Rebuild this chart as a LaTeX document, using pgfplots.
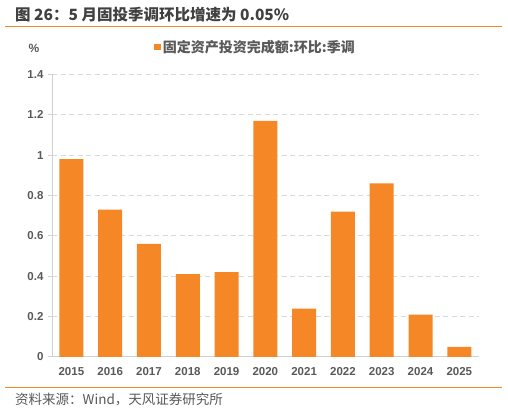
\documentclass[border=0pt]{standalone}
\usepackage{pgfplots}
\pgfplotsset{compat=1.18}
\usepackage{fontspec}
\setmainfont{Liberation Sans}
\newfontfamily\cjk{Noto Sans CJK SC}
\definecolor{barorange}{HTML}{F58726}
\definecolor{txtgrey}{HTML}{595959}
\definecolor{titlegrey}{HTML}{404040}
\definecolor{gridgrey}{HTML}{D9D9D9}
\definecolor{axisgrey}{HTML}{D0D0D0}
\begin{document}
\begin{tikzpicture}
\path[use as bounding box] (0pt,0pt) rectangle (508pt,411pt);
% title
\node[anchor=west,inner sep=0,text=titlegrey,font={\cjk\bfseries\fontsize{15.5}{17}\selectfont}] at (15pt,396pt) {图 26：5 月固投季调环比增速为 0.05\%};
\draw[barorange,line width=1.5pt] (5pt,384.3pt) -- (502pt,384.3pt);
% y unit
\node[text=txtgrey,font={\bfseries\fontsize{12}{14}\selectfont},inner sep=0] at (34pt,363pt) {\%};
% source
\draw[barorange,line width=1.5pt] (5pt,23.5pt) -- (502pt,23.5pt);
\node[anchor=west,inner sep=0,text=txtgrey,font={\cjk\fontsize{13.5}{15}\selectfont}] at (15pt,11pt) {资料来源：Wind，天风证券研究所};
\begin{axis}[
  at={(52pt,54pt)}, anchor=south west,
  scale only axis, width=426.7pt, height=282.6pt,
  xmin=-0.5, xmax=10.5, ymin=0, ymax=1.4,
  ytick={0,0.2,...,1.4},
  xtick={0,...,10},
  xticklabels={2015,2016,2017,2018,2019,2020,2021,2022,2023,2024,2025},
  axis x line=bottom, axis y line=left,
  axis line style={-, axisgrey, line width=1pt},
  x axis line style={-},
  y axis line style={-},
  tick style={axisgrey, line width=1pt},
  xtick style={draw=none},
  tick align=outside,
  major tick length=4pt,
  ymajorgrids,
  major grid style={gridgrey, line width=1pt, dash pattern=on 5pt off 3.5pt},
  extra x ticks={-0.5,0.5,...,10.5},
  extra x tick labels={},
  extra x tick style={grid=none, tick style={draw=axisgrey, line width=1pt}, major tick length=4pt},
  /pgf/number format/assume math mode=true,
  ticklabel style={text=txtgrey, font={\bfseries\fontsize{11.5}{13}\selectfont}},
  xticklabel style={yshift=-3pt},
  yticklabel style={xshift=-1pt},
  legend style={at={(0.239,1.097)}, anchor=west, draw=none, fill=none, inner sep=0pt,
    font={\cjk\bfseries\fontsize{14}{16}\selectfont}, text=txtgrey},
  legend image code/.code={\fill[barorange] (0pt,-3.4pt) rectangle (6.8pt,3.4pt);},
  clip=false,
]
\addplot[ybar, bar width=24pt, fill=barorange, draw=none] coordinates {
(0,0.98) (1,0.73) (2,0.56) (3,0.41) (4,0.42) (5,1.17) (6,0.24) (7,0.72) (8,0.86) (9,0.21) (10,0.05)};
\addlegendentry{固定资产投资完成额:环比:季调}
\end{axis}
\end{tikzpicture}
\end{document}
